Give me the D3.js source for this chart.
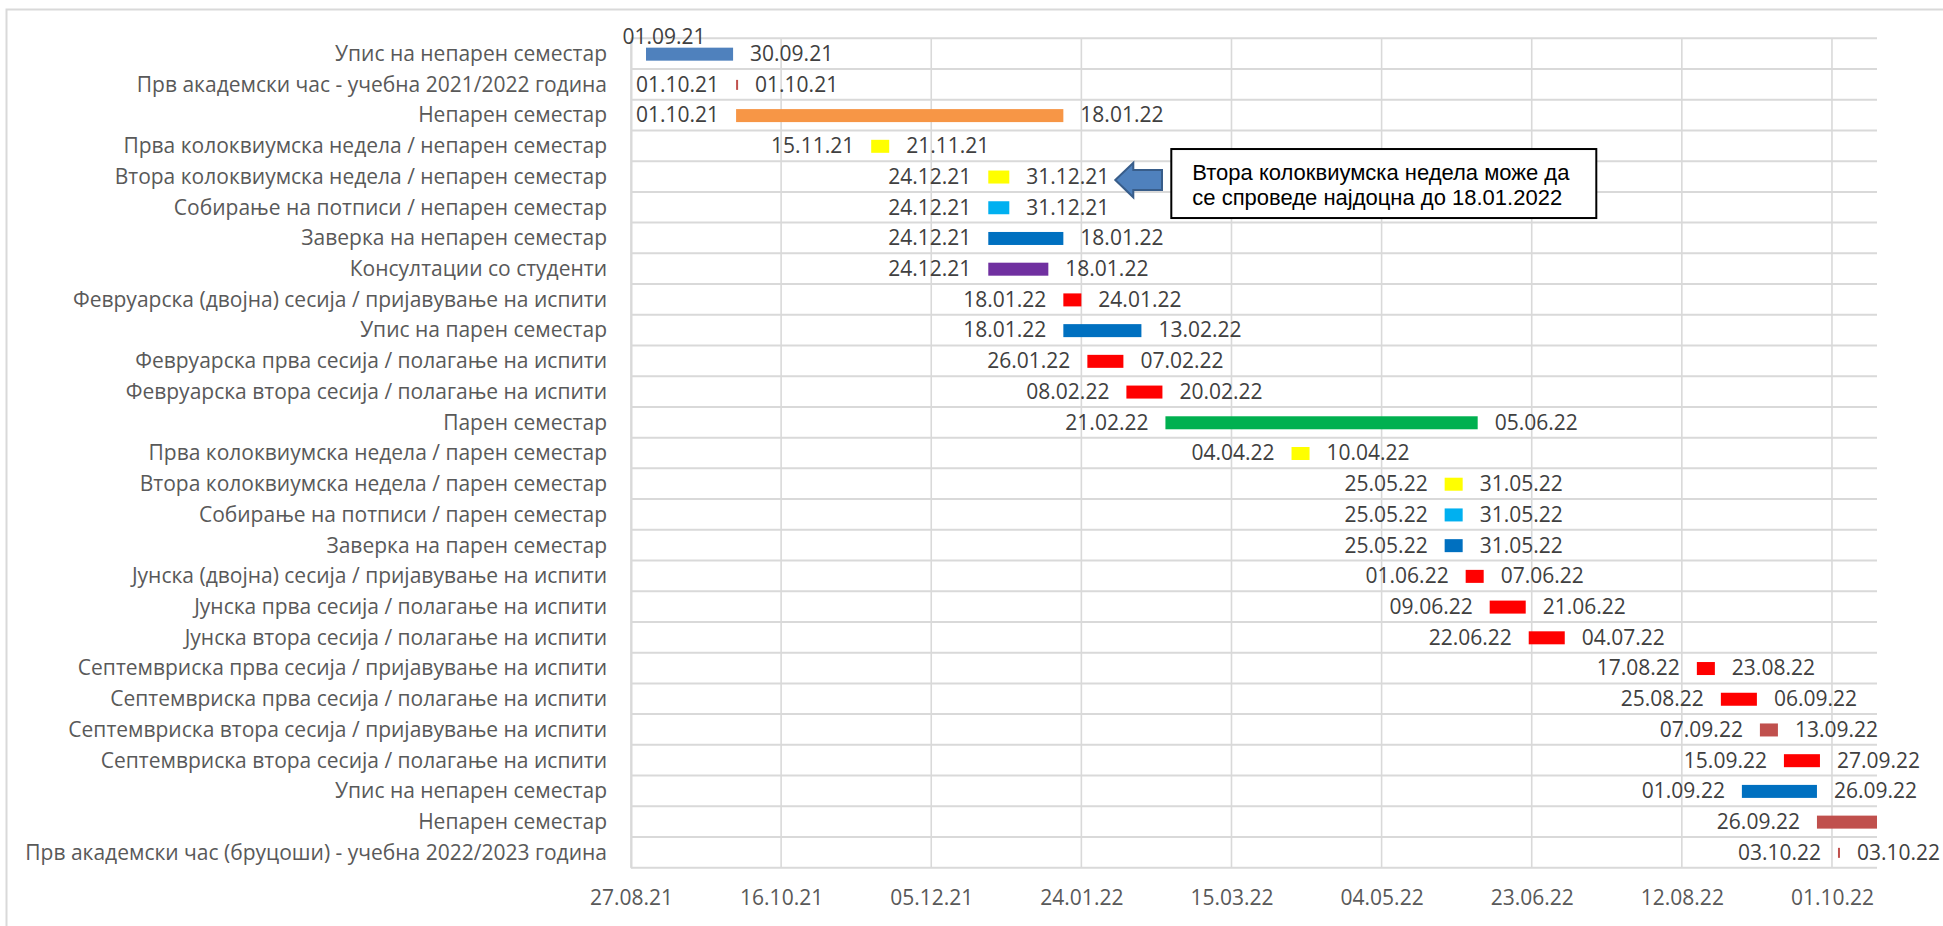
<!DOCTYPE html>
<html>
<head>
<meta charset="utf-8">
<script src="https://cdn.jsdelivr.net/npm/d3@7"></script>
<style>
  body { margin: 0; background: #fff; }
  svg { display: block; }
  .cat text, .xaxis text { font-family: "Open Sans", sans-serif; font-size: 21px; fill: #595959; }
  .lbl { font-family: "Open Sans", sans-serif; font-size: 21px; fill: #404040; }
  .note { font-family: "Liberation Sans", Arial, sans-serif; font-size: 22px; fill: #000; }
</style>
</head>
<body>
<svg id="chart" width="1943" height="926"></svg>
<script>
// activities, top to bottom
const tasks = [
  "Упис на непарен семестар",
  "Прв академски час - учебна 2021/2022 година",
  "Непарен семестар",
  "Прва колоквиумска недела / непарен семестар",
  "Втора колоквиумска недела / непарен семестар",
  "Собирање на потписи / непарен семестар",
  "Заверка на непарен семестар",
  "Консултации со студенти",
  "Февруарска (двојна) сесија / пријавување на испити",
  "Упис на парен семестар",
  "Февруарска прва сесија / полагање на испити",
  "Февруарска втора сесија / полагање на испити",
  "Парен семестар",
  "Прва колоквиумска недела / парен семестар",
  "Втора колоквиумска недела / парен семестар",
  "Собирање на потписи / парен семестар",
  "Заверка на парен семестар",
  "Јунска (двојна) сесија / пријавување на испити",
  "Јунска прва сесија / полагање на испити",
  "Јунска втора сесија / полагање на испити",
  "Септемвриска прва сесија / пријавување на испити",
  "Септемвриска прва сесија / полагање на испити",
  "Септемвриска втора сесија / пријавување на испити",
  "Септемвриска втора сесија / полагање на испити",
  "Упис на непарен семестар",
  "Непарен семестар",
  "Прв академски час (бруцоши) - учебна 2022/2023 година"
];

const starts = [
  "2021-09-01", "2021-10-01", "2021-10-01", "2021-11-15", "2021-12-24",
  "2021-12-24", "2021-12-24", "2021-12-24", "2022-01-18", "2022-01-18",
  "2022-01-26", "2022-02-08", "2022-02-21", "2022-04-04", "2022-05-25",
  "2022-05-25", "2022-05-25", "2022-06-01", "2022-06-09", "2022-06-22",
  "2022-08-17", "2022-08-25", "2022-09-07", "2022-09-15", "2022-09-01",
  "2022-09-26", "2022-10-03"
];

const ends = [
  "2021-09-30", "2021-10-01", "2022-01-18", "2021-11-21", "2021-12-31",
  "2021-12-31", "2022-01-18", "2022-01-13", "2022-01-24", "2022-02-13",
  "2022-02-07", "2022-02-20", "2022-06-05", "2022-04-10", "2022-05-31",
  "2022-05-31", "2022-05-31", "2022-06-07", "2022-06-21", "2022-07-04",
  "2022-08-23", "2022-09-06", "2022-09-13", "2022-09-27", "2022-09-26",
  "2023-01-20", "2022-10-03"
];

// end label shown in the chart where it differs from the bar end
const endLabels = { 7: "18.01.22" };

const colors = [
  "#4F81BD", "#C0504D", "#F79646", "#FFFF00", "#FFFF00",
  "#00B0F0", "#0070C0", "#7030A0", "#FF0000", "#0070C0",
  "#FF0000", "#FF0000", "#00B050", "#FFFF00", "#FFFF00",
  "#00B0F0", "#0070C0", "#FF0000", "#FF0000", "#FF0000",
  "#FF0000", "#FF0000", "#C0504D", "#FF0000", "#0070C0",
  "#C0504D", "#C0504D"
];

const axisMin = "2021-08-27";
const axisMax = "2022-10-16";
const tickDates = [
  "2021-08-27", "2021-10-16", "2021-12-05", "2022-01-24", "2022-03-15",
  "2022-05-04", "2022-06-23", "2022-08-12", "2022-10-01"
];

const noteLines = [
  "Втора колоквиумска недела може да",
  "се спроведе најдоцна до 18.01.2022"
];

const parse = d3.utcParse("%Y-%m-%d");
const fmt = d3.utcFormat("%d.%m.%y");

const data = tasks.map((t, i) => ({
  i,
  task: t,
  start: parse(starts[i]),
  end: parse(ends[i]),
  color: colors[i],
}));

const svg = d3.select("#chart");
const plot = { left: 631, right: 1877, top: 38.3, bottom: 867.7 };

// outer chart area border
svg.append("rect")
  .attr("x", 6.5).attr("y", 9.5)
  .attr("width", 2000).attr("height", 1000)
  .attr("fill", "#fff")
  .attr("stroke", "#d9d9d9").attr("stroke-width", 2);

const x = d3.scaleUtc()
  .domain([parse(axisMin), parse(axisMax)])
  .range([plot.left, plot.right]);

const y = d3.scaleBand()
  .domain(d3.range(tasks.length))
  .range([plot.top, plot.bottom]);

const g = svg.append("g");

// vertical gridlines
g.selectAll(".vgrid")
  .data(tickDates.map(parse))
  .enter().append("line")
  .attr("x1", (d) => x(d)).attr("x2", (d) => x(d))
  .attr("y1", plot.top).attr("y2", plot.bottom)
  .attr("stroke", "#d9d9d9").attr("stroke-width", 1.6);

// horizontal gridlines at category boundaries
g.selectAll(".hgrid")
  .data(d3.range(tasks.length + 1))
  .enter().append("line")
  .attr("x1", plot.left).attr("x2", plot.right)
  .attr("y1", (d) => plot.top + d * y.step())
  .attr("y2", (d) => plot.top + d * y.step())
  .attr("stroke", "#d9d9d9").attr("stroke-width", 2);

// category axis
const cat = g.append("g")
  .attr("class", "cat")
  .attr("transform", `translate(${plot.left},0)`)
  .call(d3.axisLeft(y).tickSize(0).tickPadding(24).tickFormat((i) => tasks[i]));
cat.select(".domain").attr("stroke", "#d9d9d9").attr("stroke-width", 2);
cat.selectAll("text").attr("dy", "0.35em");

// date axis
const xa = g.append("g")
  .attr("class", "xaxis")
  .attr("transform", `translate(0,${plot.bottom})`)
  .call(d3.axisBottom(x).tickValues(tickDates.map(parse)).tickFormat(fmt).tickSize(0).tickPadding(22));
xa.select(".domain").remove();

// bars
const barH = 13;
const clipEnd = (d) => (d.end > x.domain()[1] ? x.domain()[1] : d.end);

g.selectAll(".bar")
  .data(data)
  .enter().append("rect")
  .attr("class", "bar")
  .attr("x", (d) => x(d.start))
  .attr("y", (d) => {
    const h = +d.end === +d.start ? 10 : barH;
    return y(d.i) + y.bandwidth() / 2 - h / 2 + 0.5;
  })
  .attr("width", (d) => Math.max(2, x(clipEnd(d)) - x(d.start)))
  .attr("height", (d) => (+d.end === +d.start ? 10 : barH))
  .attr("fill", (d) => d.color);

// start labels
const gap = 17;
g.selectAll(".slbl")
  .data(data)
  .enter().append("text")
  .attr("class", "lbl")
  .attr("text-anchor", (d) => (d.i === 0 ? "middle" : "end"))
  .attr("x", (d) => (d.i === 0 ? x(d.start) + 18 : x(d.start) - gap))
  .attr("y", (d) => y(d.i) + y.bandwidth() / 2 + (d.i === 0 ? -17 : 0))
  .attr("dy", "0.35em")
  .text((d) => fmt(d.start));

// end labels (hidden when the bar runs past the axis)
g.selectAll(".elbl")
  .data(data.filter((d) => d.end <= x.domain()[1]))
  .enter().append("text")
  .attr("class", "lbl")
  .attr("x", (d) => Math.max(x(d.end), x(d.start) + 2) + gap)
  .attr("y", (d) => y(d.i) + y.bandwidth() / 2)
  .attr("dy", "0.35em")
  .text((d) => endLabels[d.i] || fmt(d.end));

// callout arrow + note next to the second colloquium week
const row4 = data[4];
const tx = x(row4.end) + 106;
const ty = y(4) + y.bandwidth() / 2 + 3.5;
const arrowPts = [[0, 0], [18, -17.3], [18, -10], [46.7, -10], [46.7, 10], [18, 10], [18, 17.3]];
svg.append("polygon")
  .attr("points", arrowPts.map((p) => [tx + p[0], ty + p[1]].join(",")).join(" "))
  .attr("fill", "#4F81BD")
  .attr("stroke", "#385D8A").attr("stroke-width", 2);

svg.append("rect")
  .attr("x", tx + 56).attr("y", ty - 31)
  .attr("width", 425).attr("height", 69)
  .attr("fill", "#fff")
  .attr("stroke", "#000").attr("stroke-width", 2);

svg.append("text")
  .attr("class", "note")
  .selectAll("tspan")
  .data(noteLines)
  .enter().append("tspan")
  .attr("x", tx + 77)
  .attr("y", (d, i) => ty + i * 25)
  .text((d) => d);
</script>
</body>
</html>
